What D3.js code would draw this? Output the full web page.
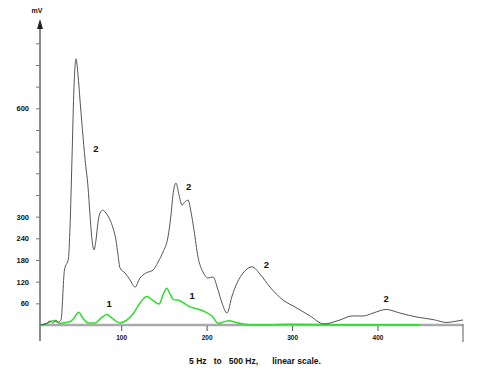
<!DOCTYPE html>
<html>
<head>
<meta charset="utf-8">
<script src="https://cdn.jsdelivr.net/npm/d3@7"></script>
<style>
  body { margin: 0; background: #fff; }
  svg text { font-family: 'Liberation Sans', Arial, sans-serif; font-weight: bold; fill: #111; }
</style>
</head>
<body>
<svg width="500" height="377"></svg>
<script>
// series 2 (black) : frequency Hz, amplitude mV
const hz2 = [5, 12, 16.7, 20.2, 23.7, 26.1, 29.6, 33.6, 38.3, 40.1, 42.4, 44.5, 47.1, 49.5, 51.8, 54.5, 57.8, 61.2, 63.5, 65.9, 68.2, 70.5, 72.9, 75.2, 78.4, 82.2, 86.9, 90.4, 93.9, 96.3, 98.6, 104.5, 110.3, 116.2, 122, 129, 137.2, 143.1, 148.9, 154.8, 158.3, 160.6, 164.1, 167.7, 171.2, 174.7, 178.2, 181.7, 185.2, 189.9, 195.7, 201.6, 207.4, 213.3, 218, 223.8, 229.7, 235.5, 243.7, 253.1, 262.4, 274.1, 289.4, 303.4, 321, 337.3, 356.1, 370.1, 383, 394.7, 409.9, 426.3, 446.2, 465, 481.3, 490.6, 500]
const mv2 = [0, 3, 11, 5, 14, 8, 14, 152, 185, 270, 457, 640, 737, 692, 623, 545, 457, 382, 305, 235, 208, 235, 285, 310, 318, 310, 291, 269, 235, 194, 158, 144, 125, 105, 130, 144, 152, 174, 202, 244, 305, 360, 393, 360, 332, 341, 346, 313, 263, 188, 147, 130, 133, 97, 61, 33, 80, 116, 147, 161, 141, 105, 69, 50, 25, 3, 14, 25, 25, 33, 43, 33, 22, 15, 7, 10, 14]

// series 1 (green)
const hz1 = [5, 13.2, 20.2, 28.4, 40.1, 44.8, 50.1, 55.3, 61.2, 69.4, 76.4, 83.1, 89.3, 98.6, 106.8, 114.2, 122, 129.9, 137.2, 144.3, 148.9, 153.3, 157.1, 161, 168.8, 178.2, 186.4, 192.2, 199.3, 206.3, 213.7, 219.1, 226.5, 234.4, 242.6, 250.7, 270, 300, 350, 400, 450]
const mv1 = [0, 4, 12, 5, 9, 19, 35, 19, 5.5, 5.5, 19, 29, 19, 5.5, 14, 32, 61, 79, 68, 58, 83, 102, 86, 71, 67, 53, 46, 42, 35, 25, 4, 8, 12, 7, 3, 1, 1, 2, 1, 1, 0.5]

const yTicks = [60, 120, 180, 240, 300, 360, 420, 480, 540, 600, 660, 720, 780]
const yLabels = [60, 120, 180, 240, 300, 600]
const xTicks = [100, 200, 300, 400]

// curve labels: [Hz, mV, text]
const curveLabels = [
  [70.5, 485, '2'], [86, 58, '1'], [179, 382, '2'], [183, 78, '1'], [270, 166, '2'], [410, 71, '2']
]

const svg = d3.select('svg')
const x = d3.scaleLinear().domain([5, 500]).range([40, 463])
const y = d3.scaleLinear().domain([0, 60]).range([325, 303.33])

// y axis
svg.append('line').attr('x1', 40).attr('x2', 40).attr('y1', 24).attr('y2', 341)
  .attr('stroke', '#666').attr('stroke-width', 1.5)
svg.append('path').attr('d', 'M40,19 L37,29 L43,29 Z').attr('fill', '#222')
svg.append('text').attr('x', 37).attr('y', 13).attr('text-anchor', 'middle')
  .attr('font-size', 7).text('mV')

const yAxis = d3.axisLeft(y).tickValues(yTicks).tickSize(4).tickPadding(7)
  .tickFormat(d => yLabels.includes(d) ? d : '')
const yg = svg.append('g').attr('transform', 'translate(40,0)').call(yAxis)
yg.select('.domain').remove()
yg.selectAll('.tick line').attr('stroke', '#777')
yg.selectAll('.tick text').attr('font-size', 7.5).attr('font-family', null).attr('fill', '#111')

// x axis
svg.append('line').attr('x1', 40).attr('x2', 463).attr('y1', 325).attr('y2', 325)
  .attr('stroke', '#aaa').attr('stroke-width', 2.5)
svg.append('line').attr('x1', 463).attr('x2', 463).attr('y1', 324).attr('y2', 342)
  .attr('stroke', '#777').attr('stroke-width', 1.2)
const xAxis = d3.axisBottom(x).tickValues(xTicks).tickSize(5).tickPadding(4)
const xg = svg.append('g').attr('transform', 'translate(0,326)').call(xAxis)
xg.select('.domain').remove()
xg.selectAll('.tick line').attr('stroke', '#555')
xg.selectAll('.tick text').attr('font-size', 6.5).attr('font-family', null).attr('fill', '#111')

const line = d3.line().x(d => x(d[0])).y(d => y(d[1])).curve(d3.curveMonotoneX)

svg.append('path').datum(d3.zip(hz1, mv1)).attr('d', line)
  .attr('fill', 'none').attr('stroke', '#2fdc2f').attr('stroke-width', 1.5)
svg.append('path').datum(d3.zip(hz2, mv2)).attr('d', line)
  .attr('fill', 'none').attr('stroke', '#555').attr('stroke-width', 1)

svg.selectAll('.clabel').data(curveLabels).enter().append('text')
  .attr('class', 'clabel')
  .attr('x', d => x(d[0])).attr('y', d => y(d[1]))
  .attr('text-anchor', 'middle').attr('dominant-baseline', 'middle')
  .attr('font-size', 9.5).text(d => d[2])

svg.append('text').attr('x', 255).attr('y', 364).attr('text-anchor', 'middle')
  .attr('font-size', 8.5).style('white-space', 'pre')
  .text('5 Hz   to   500 Hz,      linear scale.')
</script>
</body>
</html>
